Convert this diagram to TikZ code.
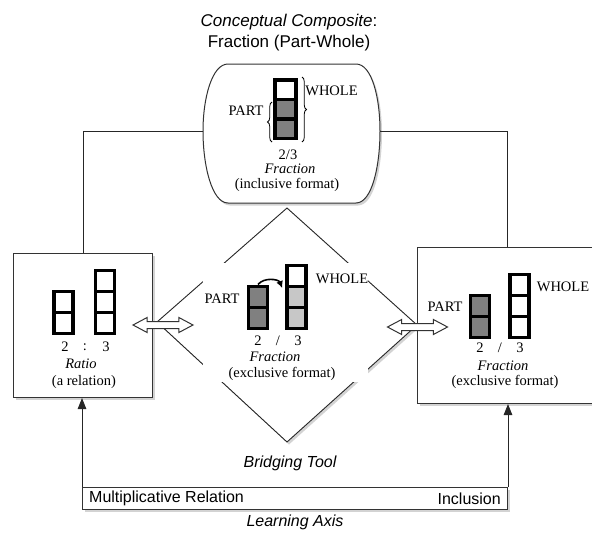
\documentclass[tikz,border=0pt]{standalone}
\usepackage{fontspec}
\setmainfont{Liberation Serif}
\setsansfont{Liberation Sans}
\usetikzlibrary{shapes.arrows,shadows,decorations.pathreplacing,arrows.meta}

\begin{document}
\begin{tikzpicture}[x=1pt,y=-1pt,
  box/.style={draw=black!80, line width=1pt, fill=white,
    drop shadow={shadow xshift=2pt, shadow yshift=-2.5pt, opacity=0.35}},
  cell/.style={draw=black, line width=3.5pt, minimum width=19pt,
    minimum height=21pt, inner sep=0pt, fill=white},
  tallcell/.style={cell, minimum width=21pt, minimum height=19.5pt},
  dark/.style={fill=black!50},
  light/.style={fill=black!22},
  lbl/.style={font=\fontsize{14.5}{17}\selectfont, inner sep=0pt},
  ital/.style={font=\fontsize{14.5}{17}\selectfont\itshape, inner sep=0pt},
  sanslbl/.style={font=\sffamily\fontsize{16}{19}\selectfont, inner sep=0pt},
  headline/.style={font=\sffamily\fontsize{17}{20}\selectfont, inner sep=0pt},
  link/.style={line width=0.9pt, draw=black!85},
  uptip/.style={-{Triangle[length=11pt,width=8.5pt]}},
  bracket/.style={decorate, decoration={brace, amplitude=4.5pt}, line width=0.8pt},
  dblarrow/.style={double arrow, draw=black!80, fill=white, line width=1pt,
    minimum height=60pt, inner xsep=0pt, inner ysep=3pt,
    double arrow head extend=4pt, double arrow tip angle=56},
]
\path[use as bounding box] (0,0) rectangle (592,533);
\clip (0,0) rectangle (592,533);

% ---------- title ----------
\node[headline] (title1) at (289,22) {\itshape Conceptual Composite\upshape:};
\node[headline] (title2) at (289,43) {Fraction (Part-Whole)};

% ---------- bridging diamond ----------
\path[draw=black!85, line width=0.9pt, fill=white,
  drop shadow={shadow xshift=2pt, shadow yshift=-2.5pt, opacity=0.35}]
  (287,208) -- (417,325) -- (287,442) -- (157,322) -- cycle;
\node[fill=white, minimum width=165pt, minimum height=119pt, inner sep=0pt]
  (dpad) at (285.5,322.5) {};

% ---------- composite (top) box ----------
\path[draw=black!80, line width=1pt, fill=white,
  drop shadow={shadow xshift=2pt, shadow yshift=-2.5pt, opacity=0.35}]
  (228,64) -- (356,64) .. controls (372,64) and (380,98) .. (380,131)
  .. controls (380,166) and (372,203) .. (356,203) -- (228,203)
  .. controls (212,203) and (203,166) .. (203,131)
  .. controls (203,98) and (212,64) .. (228,64) -- cycle;
\coordinate (tbW) at (203,131);
\coordinate (tbE) at (380,131);

% ---------- side boxes and learning axis ----------
\node[box, anchor=north west, minimum width=139pt, minimum height=144pt, inner sep=0pt]
  (lbox) at (13,253) {};
\node[box, anchor=north west, minimum width=180pt, minimum height=156pt, inner sep=0pt]
  (rbox) at (417,247) {};
\node[box, anchor=north west, minimum width=425pt, minimum height=22pt, inner sep=0pt]
  (axis) at (82,487) {};

% ---------- connectors ----------
\draw[link] (tbW) -| (lbox.north);
\draw[link] (tbE) -| (rbox.north);
\draw[link, uptip] (axis.north west) -- (axis.north west |- lbox.south);
\draw[link, uptip] (axis.north east) -- (axis.north east |- rbox.south);

\node[dblarrow] (larr) at (163,325) {};
\node[dblarrow] (rarr) at (417.5,327) {};

% ---------- top box contents ----------
\node[tallcell] (t1) at (285.5,89.5) {};
\node[tallcell, dark] (t2) at (285.5,109) {};
\node[tallcell, dark] (t3) at (285.5,128.5) {};
\draw[bracket] (302,77) -- (302,142);
\draw[bracket] (272,142) -- (272,102);
\node[lbl] (twhole) at (331.5,91) {WHOLE};
\node[lbl] (tpart) at (246,111) {PART};
\node[lbl] (tnum) at (288,155) {2/3};
\node[ital] (tname) at (290,169) {Fraction};
\node[lbl] (tfmt) at (287,185) {(inclusive format)};

% ---------- ratio box contents ----------
\node[cell] (la1) at (63.5,301.75) {};
\node[cell] (la2) at (63.5,322.75) {};
\node[cell] (lb1) at (105,280.75) {};
\node[cell] (lb2) at (105,301.75) {};
\node[cell] (lb3) at (105,322.75) {};
\node[lbl] (ln1) at (65,347) {2};
\node[lbl] (lcol) at (85,347) {:};
\node[lbl] (ln2) at (106,347) {3};
\node[ital] (lname) at (81,364) {Ratio};
\node[lbl] (lfmt) at (84,382) {(a relation)};

% ---------- diamond contents ----------
\node[cell, dark] (da1) at (258,296.75) {};
\node[cell, dark] (da2) at (258,317.75) {};
\node[cell] (db1) at (296.5,275.75) {};
\node[cell, light] (db2) at (296.5,296.75) {};
\node[cell, light] (db3) at (296.5,317.75) {};
\draw[line width=1.6pt, -{Latex[length=7pt,width=7pt]}]
  (da1.north) to[bend left=60] ([xshift=-3pt]db1.south west);
\node[lbl] (dpart) at (222,299) {PART};
\node[lbl] (dwhole) at (342,279) {WHOLE};
\node[lbl] (dn1) at (258,341) {2};
\node[lbl] (dsl) at (278,341) {/};
\node[lbl] (dn2) at (298,341) {3};
\node[ital] (dname) at (275,357) {Fraction};
\node[lbl] (dfmt) at (282,374) {(exclusive format)};
\node[sanslbl, font=\sffamily\itshape\fontsize{16}{19}\selectfont] (bridge) at (290,463) {Bridging Tool};

% ---------- fraction box contents ----------
\node[cell, dark] (ra1) at (480,305.75) {};
\node[cell, dark] (ra2) at (480,326.75) {};
\node[cell] (rb1) at (519.5,284.75) {};
\node[cell] (rb2) at (519.5,305.75) {};
\node[cell] (rb3) at (519.5,326.75) {};
\node[lbl] (rpart) at (445,307) {PART};
\node[lbl] (rwhole) at (563,287) {WHOLE};
\node[lbl] (rn1) at (480,348) {2};
\node[lbl] (rsl) at (500,348) {/};
\node[lbl] (rn2) at (520,348) {3};
\node[ital] (rname) at (503,366) {Fraction};
\node[lbl] (rfmt) at (505,382) {(exclusive format)};

% ---------- learning axis labels ----------
\node[sanslbl, anchor=west] (mult) at ([xshift=7pt]axis.west) {Multiplicative Relation};
\node[sanslbl, anchor=east] (incl) at ([xshift=-7pt]axis.east) {Inclusion};
\node[sanslbl, font=\sffamily\itshape\fontsize{16}{19}\selectfont] (learn) at (295,522) {Learning Axis};
\end{tikzpicture}
\end{document}
